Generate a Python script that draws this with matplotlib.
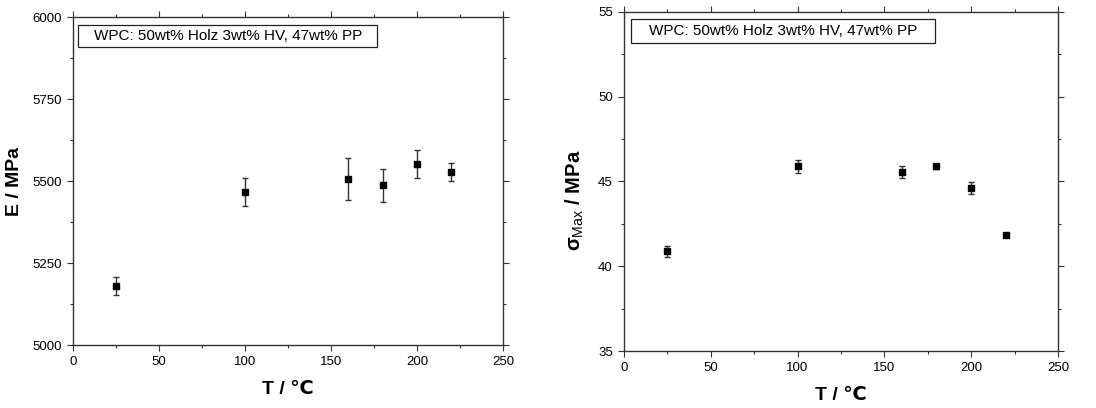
import matplotlib
matplotlib.use('Agg')
import matplotlib.pyplot as plt
from matplotlib.patches import Rectangle
from matplotlib.ticker import MultipleLocator

plt.rcParams['font.family'] = ['Liberation Sans', 'DejaVu Sans']
plt.rcParams['mathtext.fontset'] = 'custom'
plt.rcParams['mathtext.rm'] = 'Liberation Sans'
plt.rcParams['mathtext.bf'] = 'Liberation Sans:bold'

# data
temp = [25, 100, 160, 180, 200, 220]
modulus = [5180, 5468, 5507, 5488, 5552, 5529]
modulus_err = [27, 43, 63, 50, 42, 27]
strength = [40.87, 45.88, 45.56, 45.88, 44.62, 41.82]
strength_err = [0.3, 0.37, 0.35, 0.15, 0.37, 0.1]
note = 'WPC: 50wt% Holz 3wt% HV, 47wt% PP'

fig = plt.figure(figsize=(10.96, 4.08), dpi=100)
ax1 = fig.add_axes([0.0666, 0.1544, 0.3923, 0.803])
ax2 = fig.add_axes([0.5693, 0.1397, 0.396, 0.8316])


def style(ax, y, yerr, ylim, ymaj, ymin, box):
    ax.errorbar(temp, y, yerr=yerr, fmt='s', color='black', ms=4.5,
                ecolor='#333333', elinewidth=1, capsize=2.5, capthick=1)
    ax.set_xlim(0, 250)
    ax.set_ylim(*ylim)
    ax.xaxis.set_major_locator(MultipleLocator(50))
    ax.xaxis.set_minor_locator(MultipleLocator(25))
    ax.yaxis.set_major_locator(MultipleLocator(ymaj))
    ax.yaxis.set_minor_locator(MultipleLocator(ymin))
    ax.tick_params(which='both', direction='out', top=True, right=True,
                   labeltop=False, labelright=False, labelsize=9.5,
                   color='#333333', width=0.8)
    ax.tick_params(which='major', length=4.5)
    ax.tick_params(which='minor', length=2.5)
    for s in ax.spines.values():
        s.set_color('#333333')
        s.set_linewidth(1)
    ax.set_xlabel('T / ℃', fontsize=14, fontweight='bold', labelpad=9)
    x0, y0, w, h, tx = box
    ax.add_patch(Rectangle((x0, y0), w, h, transform=ax.transAxes,
                           fc='white', ec='#222222', lw=0.9, zorder=3))
    ax.text(tx, y0 + h / 2, note, transform=ax.transAxes, fontsize=11,
            ha='center', va='center', zorder=4)


style(ax1, modulus, modulus_err, (5000, 6000), 250, 125,
      (0.0123, 0.9094, 0.695, 0.067, 0.36))
ax1.set_ylabel('E / MPa', fontsize=14, fontweight='bold', labelpad=7)

style(ax2, strength, strength_err, (35, 55), 5, 2.5,
      (0.0161, 0.9078, 0.700, 0.0707, 0.366))
ax2.set_ylabel(r'$\mathbf{\sigma}_{\mathrm{Max}}$ / MPa', fontsize=14.5,
               fontweight='bold')
ax2.yaxis.set_label_coords(-0.088, 0.445)

fig.savefig('out.png', dpi=100)
